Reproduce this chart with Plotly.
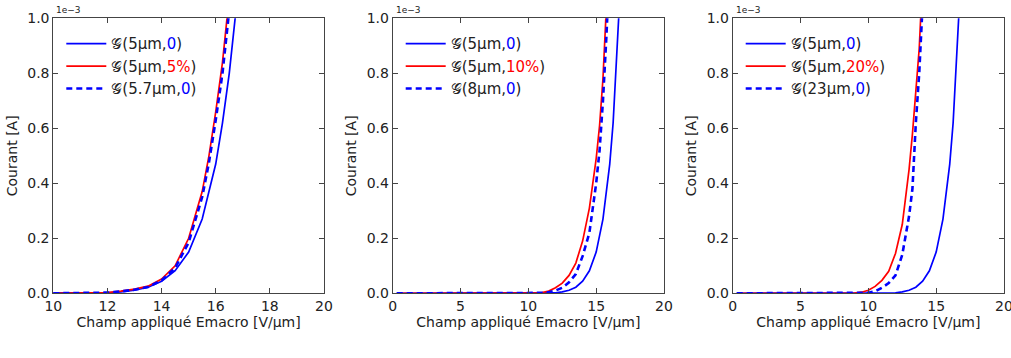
import plotly.graph_objects as go

# ---- data (current in units of 1e-3 A, field in V/um) ----
x_g5 = [0.3, 10, 11, 11.5, 12, 12.5, 13, 13.5, 14, 14.5, 15, 15.5, 16, 16.25, 16.5, 16.75, 17]
y_g5 = [0, 0, 0.0003, 0.001, 0.002, 0.005, 0.011, 0.022, 0.044, 0.082, 0.15, 0.27, 0.47, 0.62, 0.80, 1.03, 1.32]

x_p1 = [10, 11, 11.5, 12, 12.5, 13, 13.5, 14, 14.5, 15, 15.5, 15.75, 16, 16.25, 16.5]
y_g5_5pct = [0, 0.0005, 0.0015, 0.003, 0.008, 0.015, 0.026, 0.052, 0.1, 0.2, 0.37, 0.5, 0.66, 0.84, 1.08]
y_g57 = [0, 0.0004, 0.0012, 0.0025, 0.007, 0.013, 0.023, 0.047, 0.092, 0.185, 0.35, 0.475, 0.63, 0.80, 1.03]

x_p2 = [0.3, 10, 10.5, 11, 11.5, 12, 12.5, 13, 13.5, 14, 14.5, 15, 15.25, 15.5, 15.75, 16]
y_g5_10pct = [0, 0, 0.001, 0.003, 0.008, 0.02, 0.037, 0.065, 0.11, 0.19, 0.31, 0.49, 0.61, 0.78, 1.02, 1.3]
y_g8 = [0, 0, 0.0005, 0.0015, 0.004, 0.01, 0.02, 0.04, 0.07, 0.135, 0.22, 0.40, 0.52, 0.7, 0.93, 1.2]

x_p3_red = [0.3, 8.5, 9, 9.5, 10, 10.5, 11, 11.5, 12, 12.5, 13, 13.25, 13.5, 13.75, 14]
y_g5_20pct = [0, 0, 0.001, 0.004, 0.011, 0.025, 0.047, 0.08, 0.145, 0.25, 0.45, 0.58, 0.72, 0.89, 1.15]
x_p3_dash = [0.3, 9.5, 10, 10.5, 11, 11.5, 12, 12.5, 13, 13.25, 13.5, 13.75, 14, 14.25]
y_g23 = [0, 0, 0.002, 0.007, 0.02, 0.037, 0.065, 0.14, 0.28, 0.38, 0.62, 0.8, 1.0, 1.3]

x_ticks_p1 = [10, 12, 14, 16, 18, 20]
x_ticks_p23 = [0, 5, 10, 15, 20]
y_ticks = [0.0, 0.2, 0.4, 0.6, 0.8, 1.0]

BLUE = "#0000ff"
RED = "#ff0000"
G = "𝒢"

def lab(size, val, col):
    return f"{G}({size}µm,<span style='color:{col}'>{val}</span>)"

panels = [
    dict(x_range=[10, 20], ticks=x_ticks_p1,
         curves=[(x_g5, y_g5, BLUE, "solid", lab("5", "0", BLUE)),
                 (x_p1, y_g5_5pct, RED, "solid", lab("5", "5%", RED)),
                 (x_p1, y_g57, BLUE, "dash", lab("5.7", "0", BLUE))]),
    dict(x_range=[0, 20], ticks=x_ticks_p23,
         curves=[(x_g5, y_g5, BLUE, "solid", lab("5", "0", BLUE)),
                 (x_p2, y_g5_10pct, RED, "solid", lab("5", "10%", RED)),
                 (x_p2, y_g8, BLUE, "dash", lab("8", "0", BLUE))]),
    dict(x_range=[0, 20], ticks=x_ticks_p23,
         curves=[(x_g5, y_g5, BLUE, "solid", lab("5", "0", BLUE)),
                 (x_p3_red, y_g5_20pct, RED, "solid", lab("5", "20%", RED)),
                 (x_p3_dash, y_g23, BLUE, "dash", lab("23", "0", BLUE))]),
]

W, H = 1011, 358
xdoms = [[53.3 / W, 324 / W], [392.7 / W, 664 / W], [732.7 / W, 1004 / W]]
ydom = [1 - 293.3 / H, 1 - 18.3 / H]

fig = go.Figure()
FONT = "DejaVu Sans"
axcol = "#444444"
txtcol = "#222222"

for i, p in enumerate(panels):
    n = "" if i == 0 else str(i + 1)
    leg = "legend" if i == 0 else f"legend{i + 1}"
    for (xs, ys, col, dash, name) in p["curves"]:
        fig.add_trace(go.Scatter(
            x=xs, y=ys, mode="lines", name=name,
            line=dict(color=col, width=2.6 if dash == "dash" else 1.7,
                      dash="6px,4px" if dash == "dash" else "solid"),
            xaxis="x" + n, yaxis="y" + n, legend=leg, showlegend=True))
    common = dict(showline=True, linecolor=axcol, linewidth=1, mirror="allticks",
                  ticks="inside", ticklen=5, tickcolor=axcol, showgrid=False,
                  zeroline=False, automargin=False, ticklabeloverflow="allow",
                  tickfont=dict(family=FONT, size=14, color=txtcol))
    fig.update_layout(**{
        "xaxis" + n: dict(domain=xdoms[i], range=p["x_range"], tickvals=p["ticks"],
                          anchor="y" + n,
                          title=dict(text="Champ appliqué Emacro [V/µm]", standoff=3,
                                     font=dict(family=FONT, size=14, color=txtcol)),
                          **common),
        "yaxis" + n: dict(domain=ydom, range=[0, 1.0], tickvals=y_ticks, tickformat=".1f",
                          anchor="x" + n,
                          title=dict(text="Courant [A]", standoff=6,
                                     font=dict(family=FONT, size=14, color=txtcol)),
                          **common),
        leg: dict(x=xdoms[i][0] + 8 / W, y=ydom[1] - 9 / H, xanchor="left", yanchor="top",
                  bgcolor="rgba(0,0,0,0)", borderwidth=0, tracegroupgap=0,
                  itemwidth=40, font=dict(family=FONT, size=15, color=txtcol)),
    })
    fig.add_annotation(text="1e−3", xref="paper", yref="paper",
                       x=xdoms[i][0] + 1 / W, y=ydom[1] + 1 / H, xanchor="left", yanchor="bottom",
                       showarrow=False, font=dict(family=FONT, size=9, color=txtcol))

fig.update_layout(width=W, height=H, margin=dict(l=0, r=0, t=0, b=0),
                  paper_bgcolor="white", plot_bgcolor="white",
                  font=dict(family=FONT, color=txtcol))
fig.write_html("out.html", config={"displayModeBar": False},
               post_script="document.body.style.margin='0';document.body.style.overflow='hidden';")
